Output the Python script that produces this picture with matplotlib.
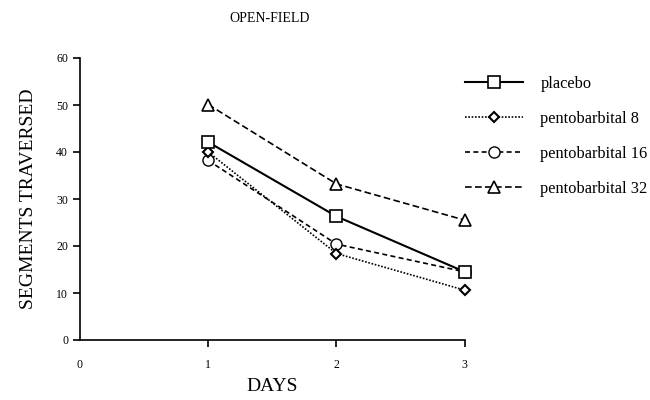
import numpy as np
import matplotlib.pyplot as plt

plt.rcParams['font.family'] = ['Liberation Serif', 'DejaVu Serif']

days = [1, 2, 3]
placebo = [42.1, 26.3, 14.5]
pento8 = [40.0, 18.4, 10.6]
pento16 = [38.2, 20.4, 14.5]
pento32 = [50.1, 33.2, 25.5]
labels = ['placebo', 'pentobarbital 8', 'pentobarbital 16', 'pentobarbital 32']

fig = plt.figure(figsize=(6.5, 4), dpi=100)
ax = fig.add_axes([0.123, 0.15, 0.592, 0.705])

ax.plot(days, placebo, color='k', lw=1.5, ls='-', marker='s', ms=8,
        mfc='white', mec='k', mew=1.2, label=labels[0], clip_on=False, zorder=5)
ax.plot(days, pento8, color='k', lw=1.2, ls=(0, (1, 1)), marker='D', ms=5.5,
        mfc='white', mec='k', mew=1.5, label=labels[1], clip_on=False, zorder=4)
ax.plot(days, pento16, color='k', lw=1.2, ls=(0, (3, 2)), marker='o', ms=8,
        mfc='white', mec='k', mew=1.0, label=labels[2], clip_on=False, zorder=3)
ax.plot(days, pento32, color='k', lw=1.2, ls=(0, (4, 2)), marker='^', ms=8,
        mfc='white', mec='k', mew=1.2, label=labels[3], clip_on=False, zorder=4)

ax.set_xlim(0, 3)
ax.set_ylim(0, 60)
ax.set_xticks([0, 1, 2, 3])
ax.set_yticks(np.arange(0, 61, 10))
ax.spines['top'].set_visible(False)
ax.spines['right'].set_visible(False)
ax.tick_params(direction='out', length=5, width=1.2, labelsize=8.5)
ax.tick_params(axis='x', pad=9)
ax.xaxis.get_major_ticks()[0].tick1line.set_visible(False)
for s in ['left', 'bottom']:
    ax.spines[s].set_linewidth(1.2)

ax.set_xlabel('DAYS', fontsize=14, labelpad=5)
ax.set_ylabel('SEGMENTS TRAVERSED', fontsize=14, labelpad=14)
fig.text(0.415, 0.955, 'OPEN-FIELD', fontsize=10, ha='center', va='center')

leg = ax.legend(loc='upper left', bbox_to_anchor=(0.984, 0.961), frameon=False,
                fontsize=11.8, handlelength=3.55, handletextpad=1.04,
                labelspacing=1.17, borderaxespad=0.0)

fig.savefig('out.png', dpi=100)
